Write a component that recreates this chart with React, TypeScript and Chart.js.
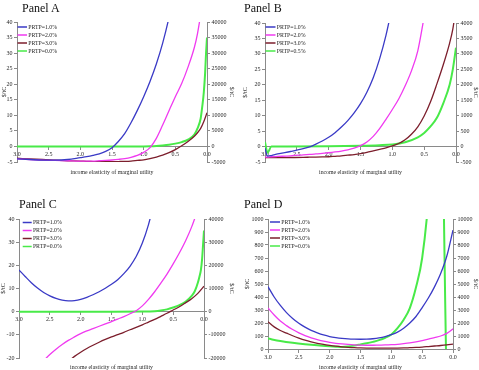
import { useEffect, useRef } from "react";
import { Chart, registerables } from "chart.js";

Chart.register(...registerables);

const SERIF = "'Liberation Serif', 'Times New Roman', Times, serif";
const AXIS_GRAY = "#8a8a8a";
const TEXT = "#262626";
const LINE_COLORS = ["#3a3ac6", "#f03af0", "#7c1e2c", "#48ea48"];
const X_TITLE = "income elasticity of marginal utility";
const Y_TITLE = "$/tC";

// ---- Panel A: social cost of carbon against the elasticity of marginal utility
const etaA = [3.0, 2.8, 2.6, 2.4, 2.2, 2.0, 1.9, 1.8, 1.7, 1.6, 1.5, 1.4, 1.3, 1.2, 1.1, 1.0, 0.9, 0.8, 0.7, 0.6, 0.5, 0.4, 0.3, 0.2, 0.15, 0.1, 0.05, 0.0];
const sccA_prtp1 = [-4.0, -4.2, -4.4, -4.4, -4.2, -3.6, -3.3, -2.9, -2.4, -1.6, -0.4, 1.6, 4.1, 7.6, 11.6, 16.0, 20.9, 26.5, 33.2, 41.5, 52, null, null, null, null, null, null, null];
const sccA_prtp2 = [-4.0, -4.2, -4.4, -4.5, -4.6, -4.7, -4.7, -4.7, -4.6, -4.5, -4.35, -4.15, -3.9, -3.5, -2.9, -1.9, -0.4, 2.6, 6.9, 11.5, 16.0, 20.2, 25.5, 31.8, 36.3, 42.5, 50, null];
const sccA_prtp3 = [-3.8, -4.0, -4.2, -4.4, -4.6, -4.7, -4.8, -4.85, -4.9, -4.9, -4.9, -4.85, -4.8, -4.7, -4.5, -4.3, -3.9, -3.4, -2.8, -2.0, -1.0, 0.2, 1.6, 3.3, 4.4, 5.8, 8.0, 10.8];
const etaA0 = [3.0, 1.5, 1.0, 0.9, 0.8, 0.7, 0.6, 0.5, 0.4, 0.3, 0.2, 0.15, 0.1, 0.075, 0.05, 0.03, 0.015, 0.0];
const sccA_prtp0 = [0, 0, 20, 60, 150, 320, 550, 900, 1400, 2200, 3800, 5800, 9000, 12800, 17500, 23500, 30000, 35000];

// ---- Panel B
const etaB = [3.0, 2.96, 2.9, 2.8, 2.6, 2.4, 2.3, 2.2, 2.1, 2.0, 1.9, 1.8, 1.7, 1.6, 1.5, 1.4, 1.3, 1.2, 1.1, 1.0, 0.9, 0.8, 0.7, 0.6, 0.5, 0.4, 0.3, 0.2, 0.1, 0.05, 0.0];
const sccB_prtp1 = [-0.5, -3.1, -2.9, -2.4, -1.6, -0.7, -0.1, 0.8, 1.8, 3.0, 4.5, 6.3, 8.4, 10.9, 13.9, 17.6, 22.3, 28.4, 36, 45.5, null, null, null, null, null, null, null, null, null, null, null];
const sccB_prtp2 = [-3.4, -3.4, -3.3, -3.2, -3.0, -2.7, -2.55, -2.4, -2.2, -2.0, -1.75, -1.45, -1.05, -0.5, 0.3, 1.5, 3.3, 5.8, 8.8, 12.0, 15.4, 19.6, 24.5, 31, 42, null, null, null, null, null, null];
const sccB_prtp3 = [-3.6, -3.6, -3.6, -3.6, -3.55, -3.5, -3.45, -3.4, -3.35, -3.3, -3.15, -3.0, -2.8, -2.6, -2.3, -1.9, -1.4, -0.9, -0.4, 0.2, 1.0, 2.2, 4.0, 6.4, 9.9, 14.5, 20.3, 26.5, 33.5, 38, 45];
const etaB0 = [3.0, 2.96, 2.9, 2.8, 2.0, 1.5, 1.2, 1.0, 0.8, 0.6, 0.5, 0.4, 0.3, 0.2, 0.1, 0.05, 0.0];
const sccB_prtp05 = [150, -200, 0, 5, 10, 25, 45, 70, 140, 300, 440, 650, 930, 1400, 2000, 2500, 3200];

// ---- Panel C
const etaC = [3.0, 2.9, 2.8, 2.7, 2.6, 2.5, 2.4, 2.3, 2.2, 2.1, 2.0, 1.9, 1.8, 1.7, 1.6, 1.5, 1.4, 1.3, 1.2, 1.1, 1.0, 0.9, 0.8, 0.7, 0.6, 0.5, 0.4, 0.3, 0.2, 0.1, 0.0];
const sccC_prtp1 = [18, 15.2, 12.5, 10.2, 8.3, 6.8, 5.7, 5.0, 4.7, 4.8, 5.3, 6.2, 7.3, 8.6, 10.1, 11.8, 13.8, 16.4, 19.6, 23.8, 29.6, 37.6, 48, null, null, null, null, null, null, null, null];
const sccC_prtp2 = [null, null, null, -24.5, -21.2, -18.5, -16.2, -14.2, -12.4, -10.9, -9.5, -8.3, -7.3, -6.3, -5.3, -4.3, -3.2, -2.1, -0.9, 0.4, 2.5, 5.3, 8.6, 12.3, 16.2, 20.6, 25.3, 30.5, 36.6, 44, null];
const sccC_prtp3 = [null, null, null, null, null, null, null, null, -21.5, -19.3, -17.5, -15.9, -14.5, -13.2, -12.0, -10.9, -9.9, -8.9, -7.8, -6.8, -5.7, -4.5, -3.3, -2.0, -0.7, 0.7, 2.1, 3.8, 5.6, 7.9, 11];
const etaC0 = [3.0, 1.5, 1.0, 0.8, 0.7, 0.6, 0.5, 0.4, 0.3, 0.2, 0.15, 0.1, 0.075, 0.05, 0.03, 0.015, 0.0];
const sccC_prtp0 = [0, 0, 50, 200, 500, 1000, 1800, 2800, 4300, 6800, 8800, 12500, 15000, 18000, 23000, 29000, 35000];

// ---- Panel D
const etaD = etaC;
const sccD_prtp1 = [480, 400, 335, 280, 235, 198, 168, 143, 124, 108, 96, 88, 82, 78, 76, 75, 76, 79, 85, 95, 110, 130, 160, 200, 250, 318, 392, 478, 580, 715, 915];
const sccD_prtp2 = [315, 262, 215, 180, 150, 124, 103, 86, 72, 60, 51, 44, 39, 35, 32, 30, 29, 29, 30, 31, 33, 36, 41, 47, 55, 65, 76, 88, 100, 120, 155];
const sccD_prtp3 = [210, 170, 142, 122, 102, 84, 68, 55, 44, 35, 28, 22, 17, 13, 10, 8, 7, 7, 7, 7, 7, 7, 8, 10, 12, 15, 19, 23, 27, 32, 38];
const etaD0 = [3.0, 2.8, 2.6, 2.4, 2.2, 2.0, 1.9, 1.8, 1.7, 1.6, 1.5, 1.4, 1.3, 1.2, 1.1, 1.0, 0.9, 0.8, 0.7, 0.6, 0.5, 0.4, 0.3, 0.2, 0.147, 0.113, 0.1, 0.0];
const sccD_prtp0 = [800, 620, 480, 370, 280, 210, 180, 160, 190, 260, 350, 440, 550, 680, 860, 1120, 1600, 2250, 3150, 4750, 7000, 11500, 20000, 40000, 10200, -300, -5000, -20000];

type Series = { label: string; eta: number[]; scc: (number | null)[]; axis: "y" | "y1" };

type PanelSpec = {
  heading: string;
  headingPos: [number, number];
  box: [number, number, number, number];
  area: [number, number, number, number];
  leftRange: [number, number, number];
  rightRange: [number, number, number];
  series: Series[];
  xTitleGap: number;
  legend: { dx: number; dy: number; len: number };
  yTitlePad: [number, number];
};

const PANELS: PanelSpec[] = [
  {
    heading: "Panel A",
    headingPos: [22, 2],
    box: [0, 0, 240, 185],
    area: [17, 22, 207, 162],
    leftRange: [-5, 40, 5],
    rightRange: [-5000, 40000, 5000],
    series: [
      { label: "PRTP=1.0%", eta: etaA, scc: sccA_prtp1, axis: "y" },
      { label: "PRTP=2.0%", eta: etaA, scc: sccA_prtp2, axis: "y" },
      { label: "PRTP=3.0%", eta: etaA, scc: sccA_prtp3, axis: "y" },
      { label: "PRTP=0.0%", eta: etaA0, scc: sccA_prtp0, axis: "y1" },
    ],
    xTitleGap: 10.7,
    legend: { dx: 0.5, dy: 5, len: 9.5 },
    yTitlePad: [0.4, 4.4],
  },
  {
    heading: "Panel B",
    headingPos: [244, 2],
    box: [240, 0, 239, 185],
    area: [25, 23, 216, 162],
    leftRange: [-5, 40, 5],
    rightRange: [-500, 4000, 500],
    series: [
      { label: "PRTP=1.0%", eta: etaB, scc: sccB_prtp1, axis: "y" },
      { label: "PRTP=2.0%", eta: etaB, scc: sccB_prtp2, axis: "y" },
      { label: "PRTP=3.0%", eta: etaB, scc: sccB_prtp3, axis: "y" },
      { label: "PRTP=0.5%", eta: etaB0, scc: sccB_prtp05, axis: "y1" },
    ],
    xTitleGap: 10.7,
    legend: { dx: 0.5, dy: 4, len: 10 },
    yTitlePad: [1.4, 0],
  },
  {
    heading: "Panel C",
    headingPos: [19, 197.5],
    box: [0, 185, 240, 185],
    area: [19, 34, 204, 173],
    leftRange: [-20, 40, 10],
    rightRange: [-20000, 40000, 10000],
    series: [
      { label: "PRTP=1.0%", eta: etaC, scc: sccC_prtp1, axis: "y" },
      { label: "PRTP=2.0%", eta: etaC, scc: sccC_prtp2, axis: "y" },
      { label: "PRTP=3.0%", eta: etaC, scc: sccC_prtp3, axis: "y" },
      { label: "PRTP=0.0%", eta: etaC0, scc: sccC_prtp0, axis: "y1" },
    ],
    xTitleGap: 9.7,
    legend: { dx: 3.7, dy: 3.5, len: 9 },
    yTitlePad: [0, 4.7],
  },
  {
    heading: "Panel D",
    headingPos: [244, 197.5],
    box: [240, 185, 239, 185],
    area: [28, 34, 213, 164],
    leftRange: [0, 1000, 100],
    rightRange: [0, 10000, 1000],
    series: [
      { label: "PRTP=1.0%", eta: etaD, scc: sccD_prtp1, axis: "y" },
      { label: "PRTP=2.0%", eta: etaD, scc: sccD_prtp2, axis: "y" },
      { label: "PRTP=3.0%", eta: etaD, scc: sccD_prtp3, axis: "y" },
      { label: "PRTP=0.0%", eta: etaD0, scc: sccD_prtp0, axis: "y1" },
    ],
    xTitleGap: 18.7,
    legend: { dx: 2, dy: 3, len: 10 },
    yTitlePad: [3.4, 0],
  },
];

const SMALL = 6;

function makeChart(canvas: HTMLCanvasElement, spec: PanelSpec) {
  const [, , w, h] = spec.box;
  const [l, t, r, b] = spec.area;

  // Legend drawn inside the plot, in its top-left corner
  const legendPlugin = {
    id: "insideLegend",
    afterDatasetsDraw(chart: any) {
      const { ctx, chartArea } = chart;
      ctx.save();
      ctx.font = `${SMALL - 0.2}px ${SERIF}`;
      ctx.textBaseline = "middle";
      ctx.textAlign = "left";
      chart.data.datasets.forEach((ds: any, i: number) => {
        const y = chartArea.top + spec.legend.dy + i * 8;
        const x0 = chartArea.left + spec.legend.dx;
        ctx.strokeStyle = ds.borderColor;
        ctx.lineWidth = 1.5;
        ctx.beginPath();
        ctx.moveTo(x0, y);
        ctx.lineTo(x0 + spec.legend.len, y);
        ctx.stroke();
        ctx.fillStyle = TEXT;
        ctx.fillText(ds.label, x0 + spec.legend.len + 1.2, y + 0.3);
      });
      ctx.restore();
    },
  };

  // x-axis caption sits under the plot area, independent of where the axis crosses
  const xTitlePlugin = {
    id: "xTitleBelow",
    afterDraw(chart: any) {
      const { ctx, chartArea } = chart;
      ctx.save();
      ctx.font = `${SMALL - 0.2}px ${SERIF}`;
      ctx.fillStyle = TEXT;
      ctx.textAlign = "center";
      ctx.textBaseline = "middle";
      ctx.fillText(X_TITLE, (chartArea.left + chartArea.right) / 2, chartArea.bottom + spec.xTitleGap);
      ctx.restore();
    },
  };

  const tickFont = { family: SERIF, size: SMALL };
  const yCommon = (range: [number, number, number], pos: "left" | "right", width: number, pad: number) => ({
    type: "linear" as const,
    position: pos,
    min: range[0],
    max: range[1],
    border: { color: AXIS_GRAY, width: 1 },
    grid: { drawOnChartArea: false, tickLength: 3, color: AXIS_GRAY },
    ticks: {
      stepSize: range[2],
      padding: 1.5,
      font: tickFont,
      color: TEXT,
      callback: (v: any) => String(v),
    },
    title: {
      display: true,
      text: Y_TITLE,
      font: tickFont,
      color: TEXT,
      padding: { top: pad, bottom: 0 },
    },
    afterFit: (scale: any) => {
      scale.width = width;
    },
  });

  return new Chart(canvas, {
    type: "line",
    data: {
      datasets: spec.series.map((s, i) => ({
        label: s.label,
        data: s.eta.map((x, k) => ({ x, y: s.scc[k] as any })),
        yAxisID: s.axis,
        borderColor: LINE_COLORS[i],
        backgroundColor: LINE_COLORS[i],
        borderWidth: i === 3 ? 2 : 1.3,
        pointRadius: 0,
        cubicInterpolationMode: "monotone" as const,
        spanGaps: false,
      })),
    },
    options: {
      animation: false,
      responsive: false,
      maintainAspectRatio: false,
      devicePixelRatio: 1,
      events: [],
      layout: { padding: { left: 0, right: 0, top: t, bottom: h - b } },
      plugins: { legend: { display: false }, tooltip: { enabled: false }, title: { display: false } },
      scales: {
        x: {
          type: "linear",
          reverse: true,
          min: 0,
          max: 3,
          position: { y: 0 } as any,
          border: { color: AXIS_GRAY, width: 1 },
          grid: { drawOnChartArea: false, tickLength: 3, color: AXIS_GRAY },
          ticks: {
            stepSize: 0.5,
            autoSkip: false,
            maxRotation: 0,
            padding: 1.5,
            font: tickFont,
            color: TEXT,
            callback: (v: any) => Number(v).toFixed(1),
          },
        },
        y: yCommon(spec.leftRange, "left", l, spec.yTitlePad[0]),
        y1: yCommon(spec.rightRange, "right", w - r, spec.yTitlePad[1]),
      } as any,
    },
    plugins: [legendPlugin, xTitlePlugin],
  });
}

function Panel({ spec }: { spec: PanelSpec }) {
  const ref = useRef<HTMLCanvasElement | null>(null);
  useEffect(() => {
    if (!ref.current) return;
    const chart = makeChart(ref.current, spec);
    return () => chart.destroy();
  }, [spec]);
  const [x, y, w, h] = spec.box;
  return (
    <>
      <canvas
        ref={ref}
        width={w}
        height={h}
        style={{ position: "absolute", left: x, top: y, width: w, height: h }}
      />
      <div
        style={{
          position: "absolute",
          left: spec.headingPos[0],
          top: spec.headingPos[1],
          font: `12px ${SERIF}`,
          lineHeight: "12px",
          color: "#111",
          whiteSpace: "nowrap",
        }}
      >
        {spec.heading}
      </div>
    </>
  );
}

export default function App() {
  return (
    <div
      style={{
        position: "absolute",
        left: 0,
        top: 0,
        width: 479,
        height: 370,
        overflow: "hidden",
        background: "#ffffff",
      }}
    >
      {PANELS.map((p) => (
        <Panel key={p.heading} spec={p} />
      ))}
    </div>
  );
}
